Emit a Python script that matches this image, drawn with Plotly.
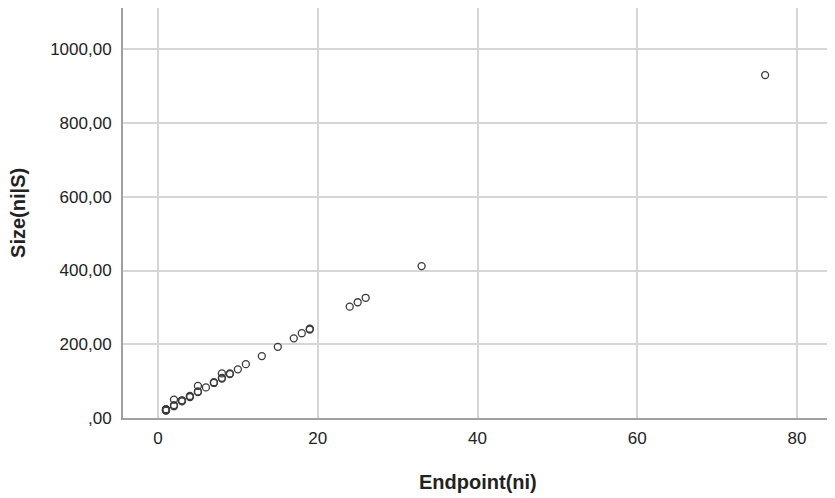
import plotly.graph_objects as go

# Endpoint(ni) values and corresponding Size(ni|S) values
endpoint = [1, 1, 1, 1, 1, 2, 2, 2, 3, 3, 3, 4, 4, 4, 5, 5, 5, 6, 7, 7, 8, 8, 8, 9, 9,
            10, 11, 13, 15, 17, 18, 19, 19, 24, 25, 26, 33, 76]
size = [20, 21, 22, 23, 24, 32, 35, 50, 45, 47, 48, 57, 58, 60, 70, 72, 87, 83, 95, 97,
        107, 109, 121, 119, 121, 132, 146, 168, 193, 216, 230, 240, 242, 302, 314, 326,
        412, 930]

x_ticks = [0, 20, 40, 60, 80]
y_ticks = [0, 200, 400, 600, 800, 1000]
y_tick_text = [",00", "200,00", "400,00", "600,00", "800,00", "1000,00"]

x_title = "Endpoint(ni)"
y_title = "Size(ni|S)"

fig = go.Figure()
fig.add_trace(go.Scatter(
    x=endpoint, y=size, mode="markers",
    marker=dict(symbol="circle-open", size=7, color="#3a3a3a", line=dict(width=1.3)),
    hoverinfo="x+y", showlegend=False,
))

font = "Liberation Sans, Arial, sans-serif"
fig.update_layout(
    width=827, height=490,
    margin=dict(l=115, r=2, t=0, b=80),
    paper_bgcolor="white", plot_bgcolor="white",
    font=dict(family=font, size=17, color="#222"),
    xaxis=dict(
        range=[-4.38, 84.5], tickvals=x_ticks, ticktext=[str(v) for v in x_ticks],
        showgrid=True, gridcolor="#d6d6d6", gridwidth=1.5,
        showline=True, linecolor="#a0a0a0", linewidth=2,
        zeroline=False, ticks="", ticklabelstandoff=4,
        tickfont=dict(family=font, size=17, color="#222"),
    ),
    yaxis=dict(
        range=[0, 1112], tickvals=y_ticks, ticktext=y_tick_text,
        showgrid=True, gridcolor="#d6d6d6", gridwidth=1.5,
        showline=True, linecolor="#a0a0a0", linewidth=2,
        zeroline=False, ticks="", ticklabelstandoff=6,
        tickfont=dict(family=font, size=17, color="#222"),
    ),
    annotations=[
        dict(text="<b>" + x_title + "</b>", xref="paper", yref="paper",
             x=0.5, y=-0.156, xanchor="center", yanchor="middle", showarrow=False,
             font=dict(family=font, size=20, color="#222")),
        dict(text="<b>" + y_title + "</b>", xref="paper", yref="paper",
             x=-0.148, y=0.5, xanchor="center", yanchor="middle", showarrow=False,
             textangle=-90, font=dict(family=font, size=20, color="#222")),
    ],
)

fig.write_html("out.html")
